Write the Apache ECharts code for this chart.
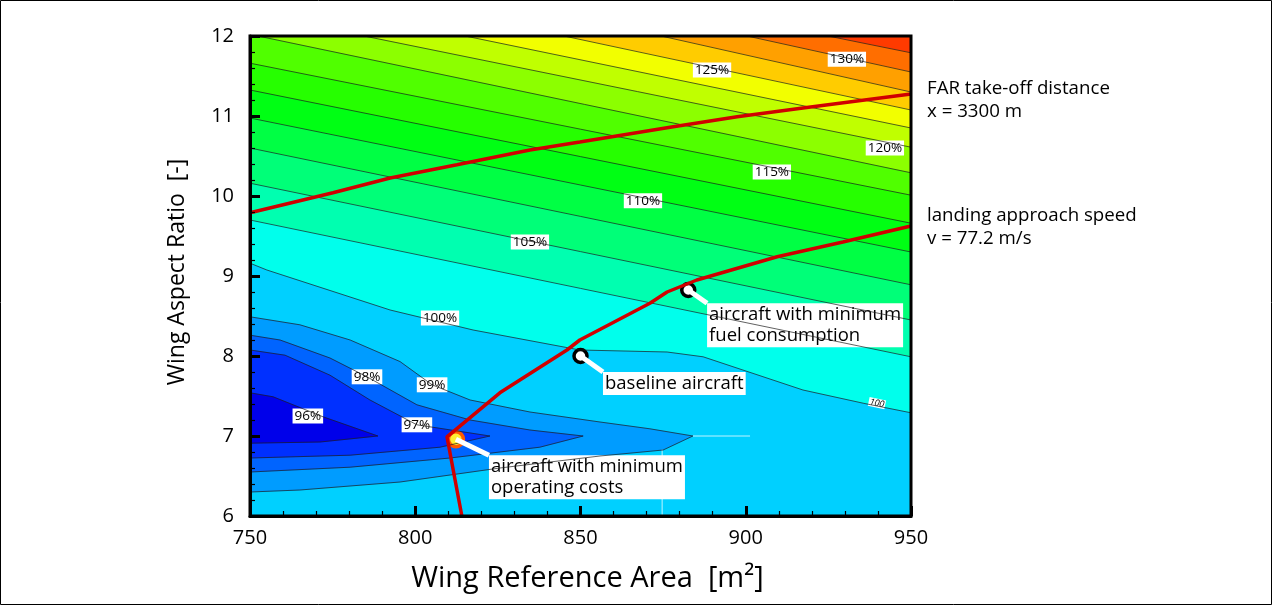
<!DOCTYPE html>
<html><head><meta charset="utf-8">
<script src="https://cdn.jsdelivr.net/npm/echarts@6/dist/echarts.min.js"></script>
<style>html,body{margin:0;padding:0;background:#fff}#c{width:1272px;height:605px}</style>
</head><body><div id="c"></div><script>
// ---- axis ticks ----
const xTicks = [750, 800, 850, 900, 950];
const yTicks = [6, 7, 8, 9, 10, 11, 12];

// ---- contour lines (wing area m², aspect ratio) ----
const c132_5 = [[924.9,12],[950,11.79]];
const c130   = [[900.4,12],[950,11.55]];
const c127_5 = [[874.4,12],[950,11.30]];
const c125   = [[845.0,12],[950,11.075]];
const c122_5 = [[815.1,12],[950,10.85]];
const c120   = [[784.5,12],[950,10.61]];
const c117_5 = [[752.4,12],[950,10.29]];
const c115   = [[750,11.66],[950,10.01]];
const c112_5 = [[750,11.325],[950,9.66]];
const c110   = [[750,10.975],[950,9.30]];
const c107_5 = [[750,10.60],[950,8.89]];
const c105   = [[750,10.16],[950,8.45]];
const c102_5 = [[750,9.70],[950,7.99]];
const c100   = [[750,9.16],[755.1,9.075],[792.4,8.575],[817.5,8.325],[849.8,8.075],[876.2,8.05],[887.1,7.99],[917.3,7.575],[935.5,7.41],[950,7.29]];
// closed low-cost pockets (upper branch to tip, then lower branch back to left edge)
const c99 = [[750,8.49],[765.1,8.39],[780.3,8.2],[795.4,7.93],[805.1,7.64],[816.6,7.45],[834.7,7.3],[855.9,7.175],[871,7.09],[884,7.0],
             [875,6.825],[855.9,6.75],[825.6,6.6],[795.4,6.425],[765.1,6.325],[750,6.3]];
const c98 = [[750,8.26],[759.1,8.2],[774.2,7.975],[785.4,7.74],[800.5,7.39],[816.6,7.2],[834.7,7.075],[850.8,7.0],
             [837.7,6.86],[810.5,6.725],[780.3,6.61],[750,6.55]];
const c97 = [[750,8.075],[760.6,8.01],[774.2,7.76],[786.3,7.45],[800.5,7.14],[822.6,7.0],
             [807.5,6.86],[780.3,6.76],[750,6.725]];
const c96 = [[750,7.54],[757,7.49],[772.1,7.24],[788.7,7.0],[771.2,6.925],[750,6.91]];
// faint white rendering seams visible in the original plot
const seamH = [[884,7.0],[901.3,7.0]];
const seamV = [[874.7,6.83],[874.7,6.0]];

const levels = [132.5,130,127.5,125,122.5,120,117.5,115,112.5,110,107.5,105,102.5,100,99,98,97,96];
const lines  = [c132_5,c130,c127_5,c125,c122_5,c120,c117_5,c115,c112_5,c110,c107_5,c105,c102_5,c100,c99,c98,c97,c96];
// colour of the band just below each level; topColor above highest
const topColor = '#ff3a00';
const bandColors = ['#ff6e00','#ffa000','#ffcc00','#f2ff00','#c0ff00','#8cff00','#50ff00','#26ff00','#00ff14','#00ff44','#00ff78','#00ffb0','#00ffec',
                    '#00d0ff','#009cff','#0064ff','#0030ff','#0000ea'];

// contour labels
const labelPos  = [[767.5,7.25],[800.5,7.14],[785.4,7.74],[805.1,7.64],[807.5,8.475],[834.7,9.425],[868.9,9.94],[907.9,10.30],[942.1,10.60],[889.8,11.575],[930.6,11.71]];
const labelText = ['96%','97%','98%','99%','100%','105%','110%','115%','120%','125%','130%'];
const smallLabel = [939.7,7.41];

// constraint curves
const takeoff = [[750,9.79],[775.1,10.04],[792.4,10.225],[812.6,10.39],[834.7,10.575],[849.8,10.675],[877.1,10.86],[897.4,10.99],[917.3,11.1],[950,11.275]];
const landing = [[814.1,6.0],[809.6,6.99],[825.6,7.54],[845.9,8.075],[849.8,8.2],[871,8.66],[876.2,8.8],[885.2,8.95],[909.5,9.24],[929.4,9.425],[950,9.625]];

// design points
const baseline = [850, 8.0];
const minFuel  = [882.6, 8.825];
const minCost  = [812.3, 6.96];
const annText   = ['baseline aircraft', 'aircraft with minimum\nfuel consumption', 'aircraft with minimum\noperating costs'];
const annPoint  = [baseline, minFuel, minCost];
const annAnchor = [[856.8,7.80],[888.3,8.66],[822.3,6.76]];

const FONT = '"Open Sans", "Noto Sans", sans-serif';

function polygonSeries(pts, color){
  return {type:'custom', coordinateSystem:'cartesian2d', clip:true, silent:true, animation:false,
    data:[pts[0]],
    renderItem:function(p, api){
      return {type:'polygon', shape:{points:pts.map(q=>api.coord(q))}, style:{fill:color, stroke:color, lineWidth:0.5}};
    }};
}
const series = [];
series.push(polygonSeries([[750,12],[950,12],[950,6],[750,6]], topColor));
lines.forEach((ln, i) => {
  let poly;
  if (levels[i] >= 100) {
    poly = ln.slice();
    poly.push([950,6],[750,6]);
    if (ln[0][1] === 12) poly.push([750,12]);
  } else poly = ln.slice();
  series.push(polygonSeries(poly, bandColors[i]));
});
[seamH, seamV].forEach((s) => {
  series.push({type:'line', data:s, symbol:'none', silent:true, animation:false,
    lineStyle:{color:'#ffffff', width:1, opacity:0.75}});
});
lines.forEach((ln) => {
  series.push({type:'line', data:ln, symbol:'none', silent:true, animation:false,
    lineStyle:{color:'#1c1c1c', width:0.7}});
});
series.push({type:'line', data:takeoff, symbol:'none', silent:true, animation:false, lineStyle:{color:'#d00000', width:3.5}});
series.push({type:'line', data:landing, symbol:'none', silent:true, animation:false, lineStyle:{color:'#d00000', width:3.5}});
// leader lines
annPoint.forEach((p,i)=>{
  series.push({type:'line', data:[p, annAnchor[i]], symbol:'none', silent:true, animation:false, lineStyle:{color:'#fff', width:5}});
});
// markers
series.push({type:'scatter', data:[baseline, minFuel], symbol:'circle', symbolSize:13, silent:true, animation:false,
  itemStyle:{color:'#fff', borderColor:'#000', borderWidth:3.5, opacity:1}});
series.push({type:'scatter', data:[minCost], symbol:'circle', symbolSize:15, silent:true, animation:false,
  itemStyle:{color:'#ffee33', borderColor:'#ff5a00', borderWidth:3.5, opacity:1}});
// annotation text boxes
series.push({type:'scatter', symbolSize:0, silent:true, animation:false, itemStyle:{opacity:1},
  data: annAnchor.map((a,i)=>({value:a, label:{formatter:annText[i]}})),
  label:{show:true, position:[0,0], align:'left', verticalAlign:'top', color:'#000', fontFamily:FONT, fontSize:18.5, lineHeight:21,
         backgroundColor:'#fff', padding:[1,2,1,2], opacity:1}});
// contour labels
series.push({type:'scatter', symbolSize:0, silent:true, animation:false, itemStyle:{opacity:1},
  data: labelPos.map((a,i)=>({value:a, label:{formatter:labelText[i]}})),
  label:{show:true, position:'inside', align:'center', verticalAlign:'middle', color:'#000', fontFamily:FONT, fontSize:13.5,
         backgroundColor:'#fff', padding:[1,2,0,2], opacity:1}});
series.push({type:'scatter', symbolSize:0, silent:true, animation:false, itemStyle:{opacity:1},
  data:[{value:smallLabel, label:{formatter:'100'}}],
  label:{show:true, position:'inside', color:'#000', fontFamily:FONT, fontSize:9, fontStyle:'italic', rotate:-12,
         backgroundColor:'#fff', padding:[0,1,0,1], opacity:1}});

const axisCommon = {
  axisLine:{show:true, onZero:false, lineStyle:{color:'#000', width:3}},
  axisTick:{show:true, inside:true, length:10, lineStyle:{color:'#000', width:3}},
  minorTick:{show:true, splitNumber:5, length:5, lineStyle:{color:'#000', width:1.2}},
  splitLine:{show:false},
  axisLabel:{color:'#000', fontFamily:FONT, fontSize:20},
  nameLocation:'middle',
  z:10
};
const chart = echarts.init(document.getElementById('c'), null, {renderer:'canvas'});
chart.setOption({
  animation:false,
  grid:{left:250, top:36, width:661, height:480, show:false},
  xAxis:Object.assign({}, axisCommon, {type:'value', min:xTicks[0], max:xTicks[xTicks.length-1], interval:50,
    name:'Wing Reference Area  [m²]', nameGap:48, nameTextStyle:{color:'#000', fontFamily:FONT, fontSize:29, padding:[0,0,0,14]},
    axisLabel:Object.assign({}, axisCommon.axisLabel, {margin:12})}),
  yAxis:Object.assign({}, axisCommon, {type:'value', min:yTicks[0], max:yTicks[yTicks.length-1], interval:1,
    name:'Wing Aspect Ratio  [-]', nameGap:61, nameTextStyle:{color:'#000', fontFamily:FONT, fontSize:23, padding:[0,0,0,8]},
    axisLabel:Object.assign({}, axisCommon.axisLabel, {margin:16})}),
  series:series,
  graphic:[
    {type:'rect', z:100, silent:true, shape:{x:250, y:36, width:661, height:480}, style:{fill:'none', stroke:'#000', lineWidth:3}},
    {type:'rect', z:100, silent:true, shape:{x:0.5, y:0.5, width:1271, height:604}, style:{fill:'none', stroke:'#000', lineWidth:1}},
    {type:'text', z:100, x:927, y:77, style:{text:'FAR take-off distance\nx = 3300 m', font:'18.7px '+FONT, fill:'#000', lineHeight:23}},
    {type:'text', z:100, x:927, y:204, style:{text:'landing approach speed\nv = 77.2 m/s', font:'18.7px '+FONT, fill:'#000', lineHeight:23}}
  ]
});
</script></body></html>
